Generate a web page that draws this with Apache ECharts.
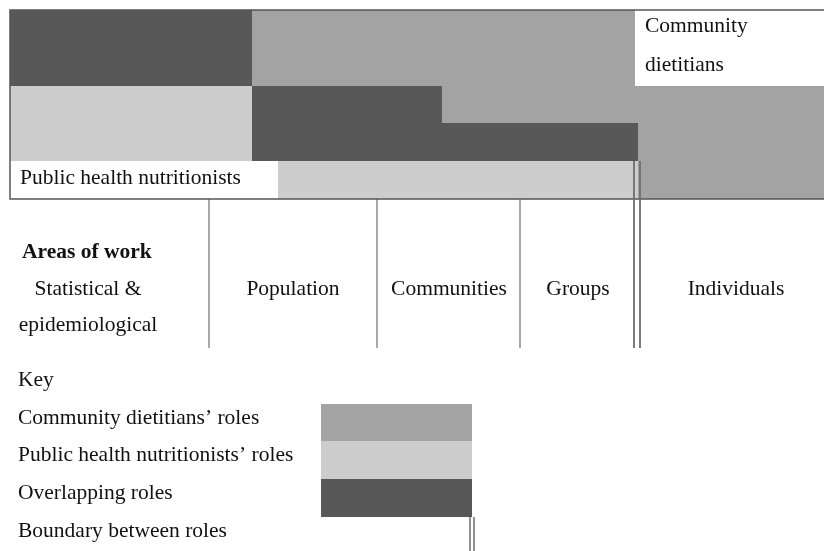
<!DOCTYPE html>
<html>
<head>
<meta charset="utf-8">
<script src="https://cdn.jsdelivr.net/npm/echarts@6/dist/echarts.min.js"></script>
<style>html,body{margin:0;padding:0;background:#fff}#main{width:824px;height:551px}</style>
</head>
<body>
<div id="main"></div>
<script>
// role bands in the top part: x in diagram units, y in row units
var rowTop = [0, 2, 3, 4];
var rowBottom = [2, 3, 4, 5];
var rowBreaks = [
    [0, 242, 625, 814],
    [0, 242, 432, 814],
    [0, 242, 628, 814],
    [0, 268, 628, 814]
];
var rowRoles = [
    ['overlap', 'dietitian', 'blank'],
    ['public', 'overlap', 'dietitian'],
    ['public', 'overlap', 'dietitian'],
    ['blank', 'public', 'dietitian']
];
var blankLabels = ['Community\ndietitians', 'Public health nutritionists'];

// areas of work
var areaTitle = 'Areas of work';
var areaNames = ['Statistical &\nepidemiological', 'Population', 'Communities', 'Groups', 'Individuals'];
var areaCenters = [78, 283, 439, 568, 726];
var areaDividers = [199, 367, 510];
var boundaryX = 627;

// key
var keyLabels = ['Key', 'Community dietitians\u2019 roles', 'Public health nutritionists\u2019 roles', 'Overlapping roles', 'Boundary between roles'];
var keyRoles = ['', 'dietitian', 'public', 'overlap', 'boundary'];

var roleColor = {
    dietitian: '#a3a3a3',
    public: '#cdcdcd',
    overlap: '#585858',
    blank: '#ffffff'
};
var FONT = '21.5px "Liberation Serif", "DejaVu Serif", serif';
var lineColor = '#6e6e6e';

var dom = document.getElementById("main");
var myChart = echarts.init(dom);
var option = null;

// flatten the rows into segments
var segs = [];
var blankCount = 0;
for (var r = 0; r < rowBreaks.length; r++) {
    for (var k = 0; k < rowRoles[r].length; k++) {
        var s = {
            x0: rowBreaks[r][k], x1: rowBreaks[r][k + 1],
            y0: rowTop[r], y1: rowBottom[r],
            role: rowRoles[r][k], label: ''
        };
        if (s.role == 'blank') {
            s.label = blankLabels[blankCount];
            blankCount++;
        }
        segs.push(s);
    }
}
var segData = [];
segs.forEach(function (s) {
    segData.push([s.x0, s.x1, s.y0, s.y1]);
});

function snapRect(p0, p1) {
    var x = Math.round(p0[0]), y = Math.round(p0[1]);
    return {x: x, y: y, width: Math.round(p1[0]) - x, height: Math.round(p1[1]) - y};
}

function segItem(params, api) {
    var s = segs[params.dataIndex];
    var p0 = api.coord([api.value(0), api.value(2)]);
    var p1 = api.coord([api.value(1), api.value(3)]);
    var children = [{
        type: 'rect',
        shape: snapRect(p0, p1),
        style: {fill: roleColor[s.role]}
    }];
    if (s.label) {
        children.push({
            type: 'text',
            style: {
                text: s.label, x: p0[0] + 10, y: (p0[1] + p1[1]) / 2 - 2,
                align: 'left', verticalAlign: 'middle',
                font: FONT, fill: '#111', lineHeight: 39
            }
        });
    }
    return {type: 'group', children: children};
}

function frameItem(params, api) {
    var p0 = api.coord([api.value(0), api.value(2)]);
    var p1 = api.coord([api.value(1), api.value(3)]);
    var r = snapRect(p0, p1);
    return {
        type: 'rect',
        shape: {x: r.x, y: r.y, width: r.width + 12, height: r.height},
        style: {fill: 'none', stroke: '#555', lineWidth: 1.5}
    };
}

function dividerItem(params, api) {
    var top = api.coord([api.value(0), 5]);
    var bot = api.coord([api.value(0), 8.95]);
    return {
        type: 'line',
        shape: {x1: top[0], y1: top[1], x2: bot[0], y2: bot[1]},
        style: {stroke: lineColor, lineWidth: 1.2}
    };
}

function boundaryItem(params, api) {
    var top = api.coord([api.value(0), 4]);
    var bot = api.coord([api.value(0), 8.95]);
    return {
        type: 'group',
        children: [-3, 3].map(function (d) {
            return {
                type: 'line',
                shape: {x1: top[0] + d, y1: top[1], x2: bot[0] + d, y2: bot[1]},
                style: {stroke: lineColor, lineWidth: 1.8}
            };
        })
    };
}

function areaItem(params, api) {
    var i = params.dataIndex;
    var first = i == 0;
    var p = api.coord([api.value(0), first ? 7.87 : 7.39]);
    return {
        type: 'text',
        style: {
            text: areaNames[i], x: p[0], y: p[1],
            align: 'center', verticalAlign: 'middle',
            font: FONT, fill: '#111', lineHeight: 36
        }
    };
}

function titleItem(params, api) {
    var p = api.coord([12, 6.43]);
    return {
        type: 'text',
        style: {
            text: areaTitle, x: p[0], y: p[1],
            align: 'left', verticalAlign: 'middle',
            font: 'bold ' + FONT, fill: '#111'
        }
    };
}

function keyItem(params, api) {
    var i = params.dataIndex;
    var role = keyRoles[i];
    var pt = api.coord([8, i + 0.52]);
    var children = [{
        type: 'text',
        style: {
            text: keyLabels[i], x: pt[0], y: pt[1],
            align: 'left', verticalAlign: 'middle',
            font: FONT, fill: '#111'
        }
    }];
    if (role == 'boundary') {
        var a = api.coord([462, i + 0.15]);
        var b = api.coord([462, 5.1]);
        [-2, 2].forEach(function (d) {
            children.push({
                type: 'line',
                shape: {x1: a[0] + d, y1: a[1], x2: b[0] + d, y2: b[1]},
                style: {stroke: lineColor, lineWidth: 1.5}
            });
        });
    } else if (role) {
        var q0 = api.coord([311, i + 0.14]);
        var q1 = api.coord([462, i + 1.14]);
        children.push({
            type: 'rect',
            shape: snapRect(q0, q1),
            style: {fill: roleColor[role]}
        });
    }
    return {type: 'group', children: children};
}

var hiddenX = function (idx) {
    return {gridIndex: idx, type: 'value', min: 0, max: 814, show: false};
};
var hiddenY = function (idx, max) {
    return {gridIndex: idx, type: 'value', min: 0, max: max, inverse: true, show: false};
};

option = {
    backgroundColor: '#fff',
    animation: false,
    grid: [
        {left: 10, top: 10, width: 814, height: 340},
        {left: 10, top: 361, width: 814, height: 188}
    ],
    xAxis: [hiddenX(0), hiddenX(1)],
    yAxis: [hiddenY(0, 9), hiddenY(1, 5)],
    series: [
        {
            type: 'custom', xAxisIndex: 0, yAxisIndex: 0,
            renderItem: segItem, data: segData,
            encode: {x: [0, 1], y: [2, 3]}
        },
        {
            type: 'custom', xAxisIndex: 0, yAxisIndex: 0, z: 3,
            renderItem: frameItem, data: [[0, 814, 0, 5]],
            encode: {x: [0, 1], y: [2, 3]}, clip: false
        },
        {
            type: 'custom', xAxisIndex: 0, yAxisIndex: 0,
            renderItem: dividerItem,
            data: areaDividers.map(function (x) { return [x]; }),
            encode: {x: 0}
        },
        {
            type: 'custom', xAxisIndex: 0, yAxisIndex: 0, z: 4,
            renderItem: boundaryItem, data: [[boundaryX]],
            encode: {x: 0}
        },
        {
            type: 'custom', xAxisIndex: 0, yAxisIndex: 0,
            renderItem: areaItem,
            data: areaCenters.map(function (x) { return [x]; }),
            encode: {x: 0}
        },
        {
            type: 'custom', xAxisIndex: 0, yAxisIndex: 0,
            renderItem: titleItem, data: [[0]],
            encode: {x: 0}
        },
        {
            type: 'custom', xAxisIndex: 1, yAxisIndex: 1,
            renderItem: keyItem,
            data: keyLabels.map(function (l, i) { return [0, i]; }),
            encode: {x: 0, y: 1}, clip: false
        }
    ]
};
if (option && typeof option === "object") {
    myChart.setOption(option, true);
}
</script>
</body>
</html>
